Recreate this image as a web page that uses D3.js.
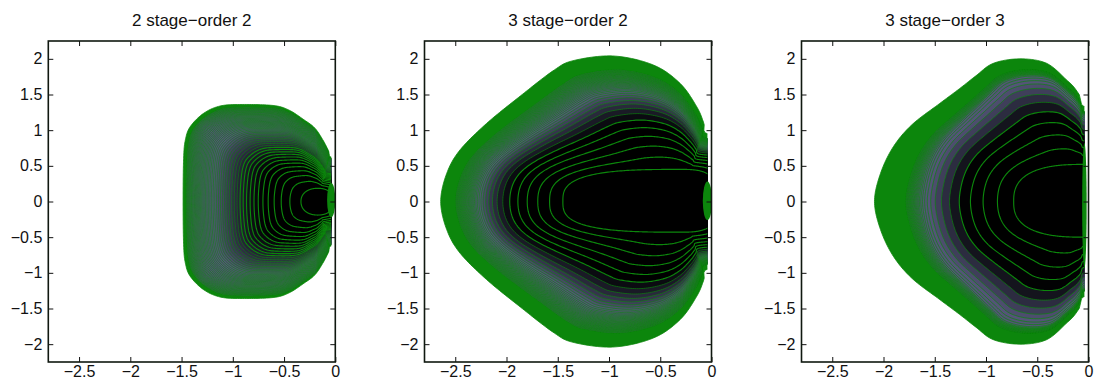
<!DOCTYPE html>
<html>
<head>
<meta charset="utf-8">
<script src="https://cdn.jsdelivr.net/npm/d3@7"></script>
<style>
  body { margin: 0; background: #fff; }
  svg { display: block; }
  text { font-family: "Liberation Sans", Arial, Helvetica, sans-serif; fill: #111; }
</style>
</head>
<body>
<svg id="chart" width="1096" height="390"></svg>
<script>
// ---- chart data ---------------------------------------------------------
const titles = ["2 stage\u2212order 2", "3 stage\u2212order 2", "3 stage\u2212order 3"];
const xTicks = [-2.5, -2, -1.5, -1, -0.5, 0];
const yTicks = [-2, -1.5, -1, -0.5, 0, 0.5, 1, 1.5, 2];
const xDomain = [-2.8, 0];
const yDomain = [-2.25, 2.25];

// Outer edge of each region, upper half (re, im), mirrored for the lower half.
// The first points continue the edge past Re(z) = 0, where the grid stops.
const outer1 = [[0.9, 0], [0.9, 0.58], [0.3, 0.6], [-0.03, 0.62], [-0.065, 0.71], [-0.12, 0.86],
  [-0.2, 1.03], [-0.31, 1.15], [-0.45, 1.28], [-0.6, 1.345], [-0.9, 1.36], [-1.12, 1.34],
  [-1.285, 1.236], [-1.415, 1.05], [-1.463, 0.862], [-1.48, 0.6], [-1.485, 0]];
const outer2 = [[1.2, 0], [1.2, 0.9], [0.3, 0.93], [-0.04, 0.95], [-0.075, 1.1], [-0.144, 1.329],
  [-0.307, 1.657], [-0.568, 1.914], [-0.958, 2.04], [-1.348, 1.975], [-1.543, 1.835], [-1.873, 1.47],
  [-2.193, 1.096], [-2.454, 0.722], [-2.583, 0.395], [-2.642, 0]];
const outer3 = [[1.2, 0], [1.2, 1.28], [0.3, 1.31], [-0.035, 1.33], [-0.075, 1.46], [-0.14, 1.6],
  [-0.213, 1.703], [-0.408, 1.937], [-0.668, 2.0], [-0.929, 1.937], [-1.1, 1.76], [-1.26, 1.58],
  [-1.449, 1.377], [-1.72, 1.08], [-1.904, 0.768], [-2.029, 0.395], [-2.088, 0]];

// Innermost contour of each region: centre and half-extents.
const coreCentre = [-0.17, -0.3, -0.05];
const coreLeft   = [0.165, 1.15, 0.68];
const coreRight  = [0.16, 0.37, 0.3];
const coreTop    = [0.185, 0.45, 0.52];
const coreBottom = [0.19, 0.43, 0.5];
const coreShape  = [2.2, 3, 2.6];

// Contour level spacing, and the fraction of the way to the rim (along the
// real and the imaginary direction) where the lines crowd into the rim.
const levelStep  = [0.106, 0.115, 0.124];
const levelGrowA = [2.17, 12.4, 96];
const levelGrowP = [2.42, 9.6, 13.6];
const rimStartRe = [0.84, 0.76, 0.66];
const rimStartIm = [0.8, 0.76, 0.86];
const shadeFrom  = [0.4, 0.58, 0.58];
const shadeTo    = [0.88, 0.9, 0.93];

// Short contour pieces where the grid meets Re(z) = 0 (im range).
const edgePiece = [[-0.22, 0.26], [-0.26, 0.28], [-0.93, 0.82]];

(function draw() {
  const svg = d3.select("#chart");
  const panelLeft = [48.3, 424.5, 801.5];
  const panelW = 287, plotTop = 41, plotBottom = 362;
  const gridRight = -0.04;
  const green = "#0c860c";
  const outerLineW = [0.62, 0.65, 0.7];

  function smoothClosed(pts, per) {
    const n = pts.length, out = [];
    for (let i = 0; i < n; i++) {
      const p0 = pts[(i - 1 + n) % n], p1 = pts[i], p2 = pts[(i + 1) % n], p3 = pts[(i + 2) % n];
      for (let j = 0; j < per; j++) {
        const t = j / per, t2 = t * t, t3 = t2 * t;
        out.push([0, 1].map(k => 0.5 * (2 * p1[k] + (-p0[k] + p2[k]) * t +
          (2 * p0[k] - 5 * p1[k] + 4 * p2[k] - p3[k]) * t2 +
          (-p0[k] + 3 * p1[k] - 3 * p2[k] + p3[k]) * t3)));
      }
    }
    return out;
  }

  function fullOutline(half) {
    const lower = half.slice(1, -1).reverse().map(([px, py]) => [px, -py]);
    return half.concat(lower);
  }

  function rayHit(poly, c, d) {
    let best = 0;
    const n = poly.length;
    for (let i = 0; i < n; i++) {
      const a = poly[i], b = poly[(i + 1) % n];
      const ex = b[0] - a[0], ey = b[1] - a[1];
      const den = d[0] * ey - d[1] * ex;
      if (Math.abs(den) < 1e-12) continue;
      const wx = a[0] - c[0], wy = a[1] - c[1];
      const t = (wx * ey - wy * ex) / den;
      const s = (wx * d[1] - wy * d[0]) / den;
      if (s >= 0 && s <= 1 && t > best) best = t;
    }
    return best;
  }

  const outers = [outer1, outer2, outer3];
  const defs = svg.append("defs");

  outers.forEach((half, pi) => {
    const x = d3.scaleLinear().domain(xDomain).range([panelLeft[pi], panelLeft[pi] + panelW]);
    const y = d3.scaleLinear().domain(yDomain).range([plotBottom, plotTop]);
    const g = svg.append("g");

    const clipId = "clip" + pi, boxId = "box" + pi;
    defs.append("clipPath").attr("id", clipId).append("rect")
      .attr("x", x(xDomain[0])).attr("y", plotTop)
      .attr("width", x(gridRight) - x(xDomain[0])).attr("height", plotBottom - plotTop);
    defs.append("clipPath").attr("id", boxId).append("rect")
      .attr("x", x(xDomain[0])).attr("y", plotTop)
      .attr("width", panelW).attr("height", plotBottom - plotTop);

    // polar description of the rim and the innermost contour
    const outline = smoothClosed(fullOutline(half), 12);
    const c = [coreCentre[pi], 0];
    const nAng = 480;
    const dirs = d3.range(nAng).map(i => {
      const a = i / nAng * 2 * Math.PI;
      return [Math.cos(a), Math.sin(a)];
    });
    const n = coreShape[pi];
    const rCore = dirs.map(([dx, dy]) => {
      const a = dx >= 0 ? coreRight[pi] : coreLeft[pi];
      const b = dy >= 0 ? coreTop[pi] : coreBottom[pi];
      return Math.pow(Math.pow(Math.abs(dx / a), n) + Math.pow(Math.abs(dy / b), n), -1 / n);
    });
    const rOuter = dirs.map(d => rayHit(outline, c, d));
    const wR = rimStartRe[pi];
    const rimAt = dirs.map(([dx, dy]) => wR * dx * dx + rimStartIm[pi] * dy * dy);
    // level w (fraction along the real direction) -> fraction along each ray
    const ring = w => dirs.map((d, i) => {
      const f = w <= wR ? w * rimAt[i] / wR
                        : rimAt[i] + (w - wR) / (1 - wR) * (1 - rimAt[i]);
      const r = rCore[i] + Math.min(f, 1) * (rOuter[i] - rCore[i]);
      return [c[0] + r * d[0], c[1] + r * d[1]];
    });

    // contour levels
    const A = levelGrowA[pi], P = levelGrowP[pi];
    const gfun = w => -Math.log(1 - w) + A * Math.pow(w, P);
    const solve = target => {
      let lo = 0, hi = 0.99999;
      for (let it = 0; it < 60; it++) {
        const mid = (lo + hi) / 2;
        if (gfun(mid) < target) lo = mid; else hi = mid;
      }
      return (lo + hi) / 2;
    };
    const spanPx = (rOuter[nAng / 2] - rCore[nAng / 2]) * (x(1) - x(0));
    const levels = [0];
    for (let k = 1; k < 3000; k++) {
      const w = solve(k * levelStep[pi]);
      if (w > 0.985 || (w - levels[levels.length - 1]) * spanPx < 0.3) break;
      levels.push(w);
    }

    const shade = d3.scaleLinear()
      .domain([shadeFrom[pi], shadeFrom[pi] + 0.3 * (shadeTo[pi] - shadeFrom[pi]), shadeTo[pi]])
      .range(["#000000", "#101018", "#545478"]).clamp(true);

    const line = d3.line().x(p => x(p[0])).y(p => y(p[1])).curve(d3.curveLinearClosed);

    const plot = g.append("g").attr("clip-path", `url(#${clipId})`);
    plot.append("path").attr("d", line(ring(1))).attr("fill", green)
      .attr("stroke", green).attr("stroke-width", 0.8);
    for (let i = levels.length - 1; i >= 0; i--) {
      const w = levels[i];
      plot.append("path").attr("d", line(ring(w)))
        .attr("fill", shade(Math.min(w / wR, 1)))
        .attr("stroke", green).attr("stroke-width", w > 0.62 * wR ? outerLineW[pi] : 1.15);
    }

    // contour ends along the grid's right column
    const ep = edgePiece[pi];
    const rx = [0.04, 0.045, 0.022][pi];
    g.append("g").attr("clip-path", `url(#${boxId})`).append("ellipse")
      .attr("cx", x(gridRight)).attr("cy", y((ep[0] + ep[1]) / 2))
      .attr("rx", x(gridRight + rx) - x(gridRight))
      .attr("ry", (y(ep[0]) - y(ep[1])) / 2)
      .attr("fill", green);

    // axes: ticks inside on all four sides
    const tick = 5;
    const fmt = d => d3.format("")(d).replace("-", "\u2212");
    const axB = g.append("g").attr("transform", `translate(0,${plotBottom})`)
      .call(d3.axisBottom(x).tickValues(xTicks).tickSize(-tick).tickPadding(4).tickFormat(fmt));
    const axT = g.append("g").attr("transform", `translate(0,${plotTop})`)
      .call(d3.axisTop(x).tickValues(xTicks).tickSize(-tick).tickFormat(""));
    const axL = g.append("g").attr("transform", `translate(${x(xDomain[0])},0)`)
      .call(d3.axisLeft(y).tickValues(yTicks).tickSize(-tick).tickPadding(6).tickFormat(fmt));
    const axR = g.append("g").attr("transform", `translate(${x(xDomain[1])},0)`)
      .call(d3.axisRight(y).tickValues(yTicks).tickSize(-tick).tickFormat(""));
    [axB, axT, axL, axR].forEach(a => {
      a.select(".domain").remove();
      a.selectAll("line").attr("stroke", "#111").attr("stroke-width", 1);
      a.selectAll("text").attr("font-size", 16).attr("fill", "#111")
        .attr("font-family", "'Liberation Sans', Arial, Helvetica, sans-serif");
    });
    g.append("rect").attr("x", x(xDomain[0])).attr("y", plotTop)
      .attr("width", panelW).attr("height", plotBottom - plotTop)
      .attr("fill", "none").attr("stroke", "#101810").attr("stroke-width", 1.6);

    g.append("text").attr("x", x(xDomain[0]) + panelW / 2).attr("y", 26)
      .attr("text-anchor", "middle").attr("font-size", 17)
      .text(titles[pi]);
  });
})();
</script>
</body>
</html>
